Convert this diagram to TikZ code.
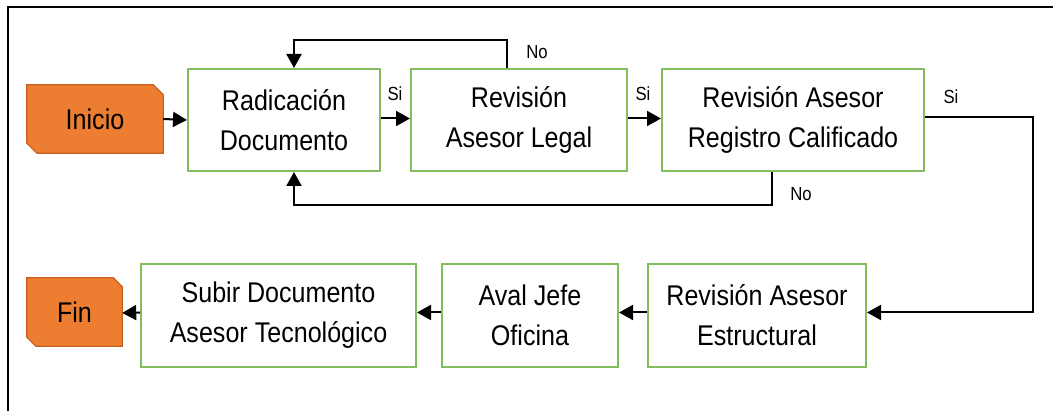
\documentclass[tikz,border=0pt]{standalone}
\usepackage{fontspec}
\setmainfont{Liberation Sans}[FakeStretch=0.88]
\usetikzlibrary{arrows.meta,backgrounds}
\definecolor{boxgreen}{RGB}{130,190,90}
\definecolor{startorange}{RGB}{237,125,49}
\definecolor{startedge}{RGB}{200,95,30}
\begin{document}
\begin{tikzpicture}[x=1pt,y=-1pt,
  stepbox/.style={draw=boxgreen,line width=2pt,fill=white,inner sep=0pt,align=center,
    font=\fontsize{28.5}{40}\selectfont},
  termbox/.style={inner sep=0pt,align=center,font=\fontsize{28.5}{30}\selectfont},
  arr/.style={draw=black,line width=2pt,-{Triangle[length=14pt,width=15pt]}},
  lbl/.style={font=\fontsize{19}{20}\selectfont,inner sep=0pt}]
\useasboundingbox (0,0) rectangle (1053,411);
% frame
\draw[line width=2.5pt] (1053,7) -- (8,7) -- (8,411);
% nodes
\node[termbox,minimum width=136pt,minimum height=68pt] (inicio) at (95,119) {Inicio};
\node[stepbox,minimum width=192pt,minimum height=102pt] (rad) at (284,120) {Radicación\\Documento};
\node[stepbox,minimum width=216pt,minimum height=102pt] (legal) at (519,120) {Revisión\\Asesor Legal};
\node[stepbox,minimum width=262pt,minimum height=102pt] (reg) at (793,120) {Revisión Asesor\\Registro Calificado};
\node[stepbox,minimum width=218pt,minimum height=103pt] (estr) at (757,315.5) {Revisión Asesor\\Estructural};
\node[stepbox,minimum width=176pt,minimum height=103pt] (aval) at (530,315.5) {Aval Jefe\\Oficina};
\node[stepbox,minimum width=275pt,minimum height=103pt] (subir) at (278.5,315.5) {Subir Documento\\Asesor Tecnológico};
\node[termbox,minimum width=95pt,minimum height=68pt] (fin) at (74.5,312) {Fin};
\begin{scope}[on background layer]
  \filldraw[fill=startorange,draw=startedge,line width=1.2pt]
    (inicio.north west) -- ([xshift=-10pt]inicio.north east) -- ([yshift=-10pt]inicio.north east)
    -- (inicio.south east) -- ([xshift=10pt]inicio.south west) -- ([yshift=10pt]inicio.south west) -- cycle;
  \filldraw[fill=startorange,draw=startedge,line width=1.2pt]
    (fin.north west) -- ([xshift=-9pt]fin.north east) -- ([yshift=-9pt]fin.north east)
    -- (fin.south east) -- ([xshift=9pt]fin.south west) -- ([yshift=9pt]fin.south west) -- cycle;
\end{scope}
% connectors
\draw[arr] (inicio.east) -- (rad.west);
\draw[arr] ([yshift=1.5pt]rad.east) -- ([yshift=1.5pt]legal.west);
\draw[arr] ([yshift=1.5pt]legal.east) -- ([yshift=1.5pt]reg.west);
\draw[arr] ([xshift=-12pt]legal.north) -- ++(0,-28) -| ([xshift=10pt]rad.north);
\draw[arr] ([xshift=-21pt]reg.south) -- ++(0,33) -| ([xshift=10pt]rad.south);
\coordinate (rturn) at (1033,117);
\draw[arr] ([yshift=3pt]reg.east) -- (rturn) |- ([yshift=3pt]estr.east);
\draw[arr] ([yshift=3pt]estr.west) -- ([yshift=3pt]aval.east);
\draw[arr] ([yshift=3pt]aval.west) -- ([yshift=3pt]subir.east);
\draw[arr] ([yshift=3pt]subir.west) -- (fin.east |- 0,313);
% labels
\node[lbl] (si1) at (395,94) {Si};
\node[lbl] (si2) at (643,94) {Si};
\node[lbl] (si3) at (951,97) {Si};
\node[lbl] (no1) at (537,52) {No};
\node[lbl] (no2) at (801,194) {No};
\end{tikzpicture}
\end{document}
